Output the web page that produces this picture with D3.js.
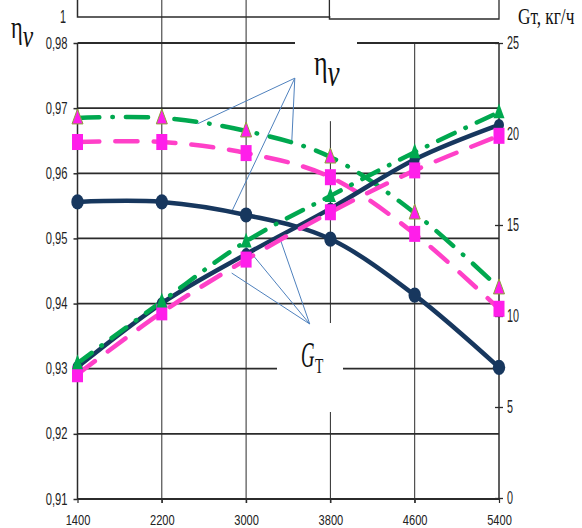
<!DOCTYPE html>
<html>
<head>
<meta charset="utf-8">
<script src="https://cdn.jsdelivr.net/npm/d3@7/dist/d3.min.js"></script>
<style>
  html, body { margin: 0; padding: 0; background: #fff; }
  svg { display: block; }
</style>
</head>
<body>
<svg id="chart" width="582" height="528"></svg>
<script>
// Engine speed, rpm
const rpm = [1400, 2200, 3000, 3800, 4600, 5400];

// Volumetric efficiency η_v (left axis)
const etaNavy  = [0.9556, 0.9556, 0.9536, 0.9499, 0.9413, 0.9302];
const etaGreen = [0.9685, 0.9685, 0.9665, 0.9625, 0.9539, 0.9424];
const etaPink  = [0.9648, 0.9648, 0.9631, 0.9594, 0.9507, 0.9392];

// Fuel consumption G_T, kg/h (right axis)
const gtNavy  = [7.2, 10.7, 13.4, 15.9, 18.6, 20.5];
const gtGreen = [7.4, 10.8, 14.1, 16.6, 19.0, 21.2];
const gtPink  = [6.8, 10.2, 13.1, 15.7, 18.0, 19.9];

// Axis ticks
const leftTicks  = [0.91, 0.92, 0.93, 0.94, 0.95, 0.96, 0.97, 0.98];
const rightTicks = [0, 5, 10, 15, 20, 25];
const topLeftLabel = "1";

// Leader-line anchors for the two curve labels (in data units)
const etaLeaderFrom = { rpm: 3462, eta: 0.9746 };
const etaLeaderTo = [
  { rpm: 2540, eta: 0.9676 },
  { rpm: 3433, eta: 0.9647 },
  { rpm: 2863, eta: 0.9541 }
];
const gtLeaderFrom = { rpm: 3604, gt: 9.56 };
const gtLeaderTo = [
  { rpm: 2863, gt: 12.36 },
  { rpm: 3000, gt: 13.8 },
  { rpm: 3319, gt: 14.3 }
];

const NAVY = "#17375E", GREEN = "#00A84F", PINK = "#FF40C8", MAGENTA = "#FF1EEA";
const GRID = "#2b2b2b", LEADER = "#4F81BD";

const svg = d3.select("#chart");
const plotL = 77.5, plotR = 499, plotT = 43, plotB = 499;

const x = d3.scalePoint().domain(rpm).range([plotL, plotR]);
const yL = d3.scaleLinear().domain([0.91, 0.98]).range([plotB, plotT]);
const yR = d3.scaleLinear().domain([0, 25]).range([plotB - 1, plotT]);
// continuous rpm position (for leader anchors between categories)
const xr = d3.scaleLinear().domain([1400, 5400]).range([plotL, plotR]);

// --- gridlines ---
const grid = svg.append("g");
grid.selectAll("line.h").data(leftTicks).join("line")
  .attr("x1", plotL).attr("x2", plotR)
  .attr("y1", d => yL(d)).attr("y2", d => yL(d))
  .attr("stroke", GRID).attr("stroke-width", 1.8);

// vertical gridlines (3800 starts just below the η label, 4600 at the top grid)
const vStart = { 2200: 0, 3000: 0, 3800: yL(0.968), 4600: yL(0.98) };
grid.selectAll("line.v").data(rpm.slice(1, 5)).join("line")
  .attr("x1", d => x(d)).attr("x2", d => x(d))
  .attr("y1", d => vStart[d]).attr("y2", plotB + 4)
  .attr("stroke", GRID).attr("stroke-width", 1);

// upper frame fragments
grid.append("path")
  .attr("d", `M${plotL},0 V17 H${x(3800)}`)
  .attr("fill", "none").attr("stroke", GRID).attr("stroke-width", 1.5);
grid.append("path")
  .attr("d", `M${x(3800) - 1},0 V19 H${plotR} V0`)
  .attr("fill", "none").attr("stroke", GRID).attr("stroke-width", 1.3);

// white backings behind in-plot labels
svg.append("rect").attr("x", 295).attr("y", 30).attr("width", 62).attr("height", 70).attr("fill", "#fff");
svg.append("rect").attr("x", 277).attr("y", 323).attr("width", 66).attr("height", 89).attr("fill", "#fff");

// --- axes ---
const sans = "'Liberation Sans', Arial, sans-serif";
function condense(sel, sx, anchorX) {
  sel.attr("transform", `scale(${sx},1)`).attr("x", anchorX / sx);
}

const axL = svg.append("g").attr("transform", `translate(${plotL},0)`)
  .call(d3.axisLeft(yL).tickValues(leftTicks).tickSize(4).tickPadding(6)
    .tickFormat(d => d3.format(".2f")(d).replace(".", ",")));
axL.select(".domain").attr("d", `M0,${plotT}V${plotB}`).attr("stroke", GRID).attr("stroke-width", 1.5);
axL.selectAll(".tick line").attr("stroke", GRID).attr("stroke-width", 1.5);
axL.selectAll(".tick text")
  .attr("font-family", sans).attr("font-size", 16).attr("fill", "#222")
  .call(condense, 0.7, -10);

const axR = svg.append("g").attr("transform", `translate(${plotR},0)`)
  .call(d3.axisRight(yR).tickValues(rightTicks).tickSize(4).tickPadding(8));
axR.select(".domain").attr("d", `M0,${plotT}V${plotB}`).attr("stroke", GRID).attr("stroke-width", 1.5);
axR.selectAll(".tick line").attr("x1", -4).attr("stroke", GRID).attr("stroke-width", 1.3);
axR.selectAll(".tick text")
  .attr("font-family", sans).attr("font-size", 18).attr("fill", "#222")
  .call(condense, 0.6, 8);

const axB = svg.append("g").attr("transform", `translate(0,${plotB})`)
  .call(d3.axisBottom(x).tickSize(4).tickPadding(11));
axB.select(".domain").attr("d", `M${plotL},0H${plotR}`).attr("stroke", GRID).attr("stroke-width", 1.8);
axB.selectAll(".tick line").attr("stroke", GRID).attr("stroke-width", 1.2);
axB.selectAll(".tick text")
  .attr("font-family", sans).attr("font-size", 15).attr("fill", "#222")
  .attr("transform", "scale(0.74,1)")
  .attr("x", 0);

// "1" label at the top of the left scale
svg.append("g").attr("transform", "translate(66,23)")
  .append("text").text(topLeftLabel)
  .attr("text-anchor", "end").attr("transform", "scale(0.6,1)")
  .attr("font-family", sans).attr("font-size", 18).attr("fill", "#222");

// --- leader lines ---
const leaders = svg.append("g").attr("stroke", LEADER).attr("stroke-width", 1).attr("fill", "none");
leaders.selectAll("line.e").data(etaLeaderTo).join("line")
  .attr("x1", xr(etaLeaderFrom.rpm)).attr("y1", yL(etaLeaderFrom.eta))
  .attr("x2", d => xr(d.rpm)).attr("y2", d => yL(d.eta));
leaders.selectAll("line.g").data(gtLeaderTo).join("line")
  .attr("x1", xr(gtLeaderFrom.rpm)).attr("y1", yR(gtLeaderFrom.gt))
  .attr("x2", d => xr(d.rpm)).attr("y2", d => yR(d.gt));

// --- series ---
const series = [
  { vals: etaNavy,  y: yL, color: NAVY,  dash: null },
  { vals: etaPink,  y: yL, color: PINK,  dash: "22,16" },
  { vals: etaGreen, y: yL, color: GREEN, dash: "22,13,0.5,13" },
  { vals: gtNavy,   y: yR, color: NAVY,  dash: null },
  { vals: gtPink,   y: yR, color: PINK,  dash: "22,16" },
  { vals: gtGreen,  y: yR, color: GREEN, dash: "18,12,0.5,12" }
];

const lineGen = (ys) => d3.line()
  .x((d, i) => x(rpm[i]))
  .y(d => ys(d))
  .curve(d3.curveCatmullRom.alpha(0));

svg.append("g").selectAll("path").data(series).join("path")
  .attr("d", s => lineGen(s.y)(s.vals))
  .attr("fill", "none")
  .attr("stroke", s => s.color)
  .attr("stroke-width", 4.5)
  .attr("stroke-linecap", s => s.dash ? "round" : "butt")
  .attr("stroke-dasharray", s => s.dash);

// markers
const mk = svg.append("g");
const circleData = etaNavy.map((v, i) => ({ cx: x(rpm[i]), cy: yL(v) }))
  .concat(gtNavy.map((v, i) => ({ cx: x(rpm[i]), cy: yR(v), small: true })));
mk.selectAll("ellipse").data(circleData).join("ellipse")
  .attr("cx", d => d.cx).attr("cy", d => d.cy)
  .attr("rx", d => d.small ? 5 : 6.2).attr("ry", d => d.small ? 6 : 7.6)
  .attr("fill", NAVY);

const squareData = etaPink.map((v, i) => ({ cx: x(rpm[i]), cy: yL(v) }))
  .concat(gtPink.map((v, i) => ({ cx: x(rpm[i]), cy: yR(v) })));
mk.selectAll("rect").data(squareData).join("rect")
  .attr("x", d => d.cx - 5.5).attr("y", d => d.cy - 8)
  .attr("width", 11).attr("height", 16)
  .attr("fill", MAGENTA);

const triPath = "M0,-9 L5.5,6 L-5.5,6 Z";
mk.selectAll("path.te").data(etaGreen).join("path")
  .attr("d", triPath)
  .attr("transform", (v, i) => `translate(${x(rpm[i])},${yL(v)})`)
  .attr("fill", MAGENTA).attr("stroke", "#8DA33A").attr("stroke-width", 1);
mk.selectAll("path.tg").data(gtGreen).join("path")
  .attr("d", triPath)
  .attr("transform", (v, i) => `translate(${x(rpm[i])},${yR(v)})`)
  .attr("fill", GREEN);

// --- titles ---
const serif = "'Liberation Serif', 'Times New Roman', serif";
function etaLabel(tx, ty, size) {
  const g = svg.append("g").attr("transform", `translate(${tx},${ty}) scale(0.72,1)`);
  const t = g.append("text").attr("font-family", serif).attr("fill", "#111");
  t.append("tspan").text("η").attr("font-size", size);
  t.append("tspan").text("v").attr("font-size", size * 1.05).attr("font-style", "italic").attr("dy", size * 0.3);
}
etaLabel(11, 38, 31);
etaLabel(314, 75, 36);

// G_T label
const gT = svg.append("g").attr("transform", "translate(301,367)");
gT.append("text").text("G").attr("transform", "scale(0.52,1)")
  .attr("font-family", serif).attr("font-style", "italic").attr("font-size", 36).attr("fill", "#111");
gT.append("text").text("Т").attr("transform", "translate(14,6) scale(0.62,1)")
  .attr("font-family", serif).attr("font-size", 22).attr("fill", "#111");

// right axis title
svg.append("g").attr("transform", "translate(518,24) scale(0.72,1)")
  .append("text").text("Gт, кг/ч")
  .attr("font-family", serif).attr("font-size", 24).attr("fill", "#111");
</script>
</body>
</html>
